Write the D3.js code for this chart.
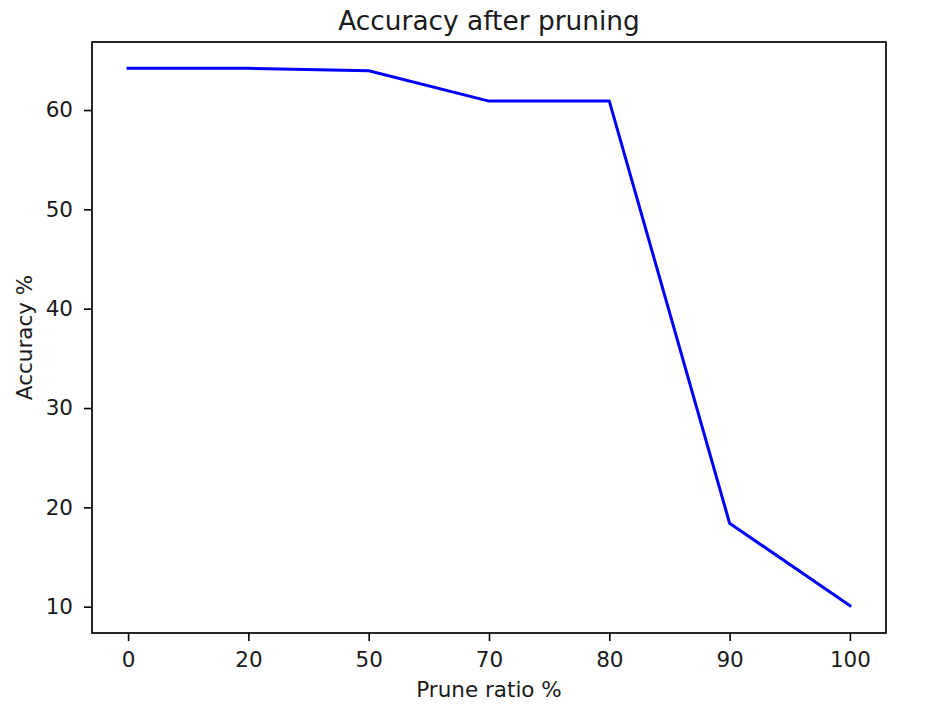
<!DOCTYPE html>
<html>
<head>
<meta charset="utf-8">
<script src="https://cdn.jsdelivr.net/npm/d3@7"></script>
<style>
  html, body { margin: 0; padding: 0; background: #fff; }
  svg { display: block; font-family: "DejaVu Sans", sans-serif; }
</style>
</head>
<body>
<svg id="chart" width="936" height="708"></svg>
<script>
// ========= Data
const pruneRatios = ["0", "20", "50", "70", "80", "90", "100"];
const accuracy = [64.2, 64.2, 63.95, 60.9, 60.9, 18.4, 10.1];
const yTicks = [10, 20, 30, 40, 50, 60];

// ========= Layout
const svg = d3.select("#chart");
const m = { l: 92, r: 886, t: 42, b: 633 };
const tickFont = 21.5;

const x = d3.scaleLinear()
    .domain([-0.3, pruneRatios.length - 1 + 0.3])
    .range([m.l, m.r]);
const y = d3.scaleLinear()
    .domain([7.35, 66.85])
    .range([m.b, m.t]);

// x axis
const xAxis = d3.axisBottom(x)
    .tickValues(d3.range(pruneRatios.length))
    .tickFormat(i => pruneRatios[i])
    .tickSizeOuter(0)
    .tickSize(8);
const gx = svg.append("g")
    .attr("transform", `translate(0,${m.b})`)
    .call(xAxis);
// baseline of tick labels
gx.selectAll("text").attr("y", 34).attr("dy", null);

// y axis
const yAxis = d3.axisLeft(y)
    .tickValues(yTicks)
    .tickSizeOuter(0)
    .tickSize(8)
    .tickPadding(11);
const gy = svg.append("g")
    .attr("transform", `translate(${m.l},0)`)
    .call(yAxis);

[gx, gy].forEach(g => {
    g.select(".domain").remove();
    g.selectAll("line").attr("stroke", "#000").attr("stroke-width", 1.6);
    g.selectAll("text")
        .attr("font-family", "DejaVu Sans")
        .attr("font-size", tickFont)
        .attr("fill", "#1a1a1a");
});

// frame
svg.append("rect")
    .attr("x", m.l).attr("y", m.t)
    .attr("width", m.r - m.l).attr("height", m.b - m.t)
    .attr("fill", "none")
    .attr("stroke", "#000")
    .attr("stroke-width", 1.7);

// line
const line = d3.line()
    .x((d, i) => x(i))
    .y(d => y(d));

svg.append("path")
    .datum(accuracy)
    .attr("fill", "none")
    .attr("stroke", "#0000ff")
    .attr("stroke-width", 3)
    .attr("stroke-linejoin", "round")
    .attr("stroke-linecap", "square")
    .attr("d", line);

// labels
svg.append("text")
    .attr("x", (m.l + m.r) / 2)
    .attr("y", 30)
    .attr("text-anchor", "middle")
    .attr("font-size", 26.4)
    .attr("fill", "#1a1a1a")
    .text("Accuracy after pruning");

svg.append("text")
    .attr("x", (m.l + m.r) / 2)
    .attr("y", 697)
    .attr("text-anchor", "middle")
    .attr("font-size", tickFont)
    .attr("fill", "#1a1a1a")
    .text("Prune ratio %");

svg.append("text")
    .attr("transform", `translate(32,${(m.t + m.b) / 2}) rotate(-90)`)
    .attr("text-anchor", "middle")
    .attr("font-size", tickFont)
    .attr("fill", "#1a1a1a")
    .text("Accuracy %");
</script>
</body>
</html>
